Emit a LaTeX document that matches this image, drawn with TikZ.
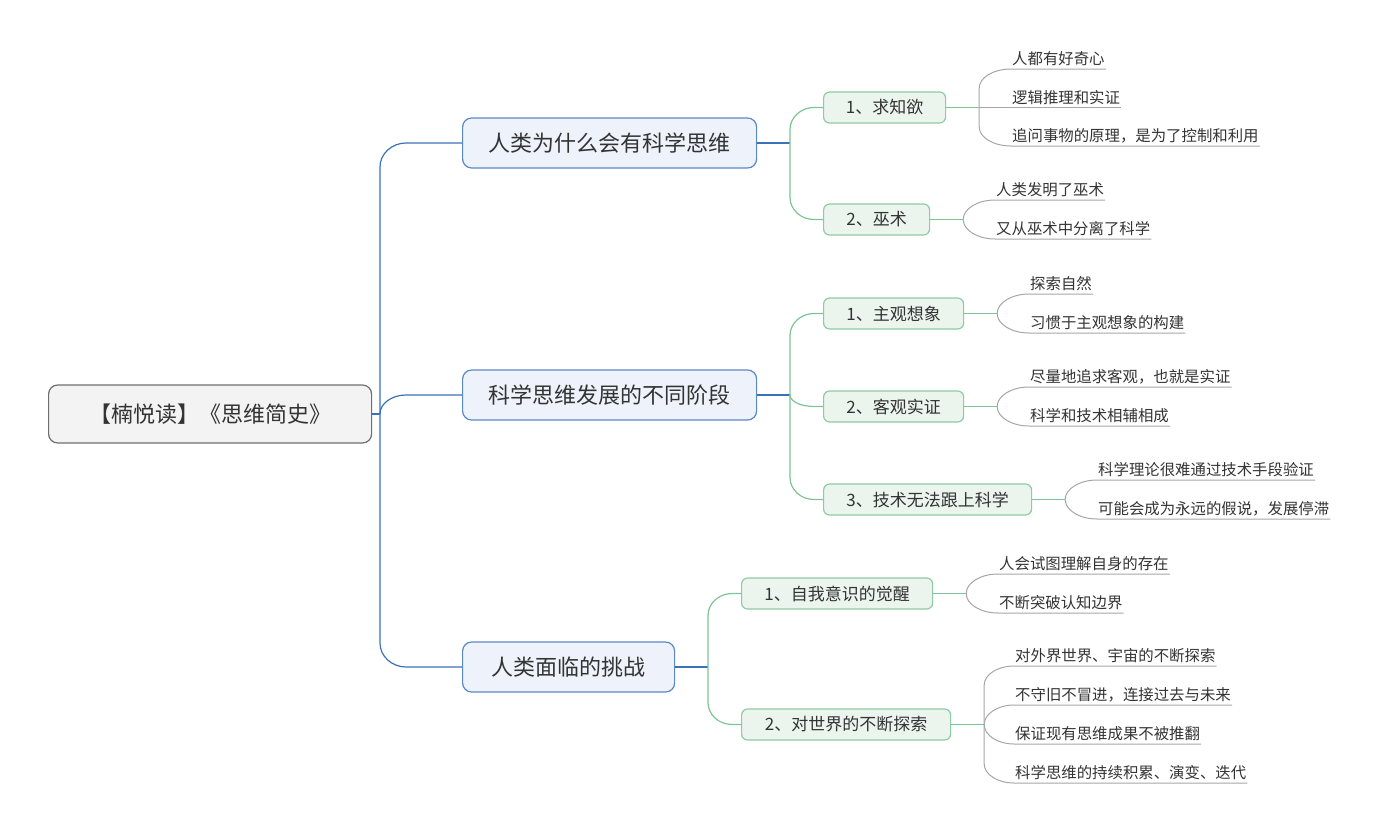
\documentclass[tikz,border=0pt]{standalone}
\usepackage{fontspec}
\setmainfont{Noto Sans CJK SC}
\usetikzlibrary{calc}
\definecolor{txt}{HTML}{333333}
\definecolor{rootfill}{HTML}{F3F3F3}
\definecolor{rootdraw}{HTML}{6E6E6E}
\definecolor{bluefill}{HTML}{EEF3FB}
\definecolor{bluedraw}{HTML}{5A88C6}
\definecolor{bluelinec}{HTML}{3A72BA}
\definecolor{greenfill}{HTML}{EBF5EE}
\definecolor{greendraw}{HTML}{8FCBA2}
\definecolor{greenlinec}{HTML}{7CC493}
\definecolor{graylinec}{HTML}{A6A6A6}
\tikzset{
  rootbox/.style={draw=rootdraw, fill=rootfill, line width=1.2pt, rounded corners=9pt,
    minimum height=58pt, anchor=west, text=txt, inner sep=0pt,
    font=\fontsize{22pt}{26pt}\selectfont},
  topicbox/.style={draw=bluedraw, fill=bluefill, line width=1.2pt, rounded corners=9pt,
    minimum height=50pt, anchor=west, text=txt, inner sep=0pt,
    font=\fontsize{22pt}{26pt}\selectfont},
  subbox/.style={draw=greendraw, fill=greenfill, line width=1.2pt, rounded corners=6pt,
    minimum height=31pt, anchor=west, text=txt, inner sep=0pt,
    font=\fontsize{17pt}{20pt}\selectfont},
  leaf/.style={anchor=south west, inner xsep=1pt, inner ysep=0pt, text height=12pt,
    text depth=4pt, text=txt, font=\fontsize{15.4pt}{18pt}\selectfont},
  bconn/.style={draw=bluelinec, line width=1.2pt},
  gconn/.style={draw=greenlinec, line width=1.2pt},
  lconn/.style={draw=graylinec, line width=1pt},
}
% #1 style, #2 junction, #3 target anchor, #4 horizontal reach
\newcommand\mmNear[4]{\draw[#1] (#2) .. controls ($(#2 |- #3)!0.45!(#2)$) and ($(#2 |- #3)+(0.45*#4,0)$) .. ($(#2 |- #3)+(#4,0)$) -- (#3);}
% #5 vertical radius (positive when target is above)
\newcommand\mmFar[5]{\draw[#1] (#2) -- ($(#2 |- #3)+(0,#5)$) .. controls ($(#2 |- #3)+(0,0.45*#5)$) and ($(#2 |- #3)+(0.45*#4,0)$) .. ($(#2 |- #3)+(#4,0)$) -- (#3);}
\newcommand\mmLeafNear[2]{\draw[lconn] (#1) .. controls ($(#1 |- #2.south west)!0.45!(#1)$) and ($(#1 |- #2.south west)!0.45!(#2.south west)$) .. (#2.south west) -- (#2.south east);}
\newcommand\mmLeafFar[3]{\draw[lconn] (#1) -- ($(#1 |- #2.south west)+(0,#3)$) .. controls ($(#1 |- #2.south west)+(0,0.45*#3)$) and ($(#1 |- #2.south west)!0.45!(#2.south west)$) .. (#2.south west) -- (#2.south east);}
\newcommand\mmLeafStraight[2]{\draw[lconn] (#1) -- (#2.south west) -- (#2.south east);}
\begin{document}
\begin{tikzpicture}[x=1pt, y=-1pt]
\useasboundingbox (0,0) rectangle (1379,830);
% nodes
\node[rootbox, minimum width=323pt] (root) at (48,414) {【楠悦读】《思维简史》};
\node[topicbox, minimum width=294pt] (A) at (462,143) {人类为什么会有科学思维};
\node[topicbox, minimum width=294pt] (B) at (462,395) {科学思维发展的不同阶段};
\node[topicbox, minimum width=212pt] (C) at (462,667) {人类面临的挑战};
\node[subbox, minimum width=122pt] (A1) at (823,107.5) {1、求知欲};
\node[subbox, minimum width=106pt] (A2) at (823,219.5) {2、巫术};
\node[subbox, minimum width=140pt] (B1) at (823,313.5) {1、主观想象};
\node[subbox, minimum width=140pt] (B2) at (823,406.5) {2、客观实证};
\node[subbox, minimum width=208pt] (B3) at (823,499.5) {3、技术无法跟上科学};
\node[subbox, minimum width=191pt] (C1) at (741,593.5) {1、自我意识的觉醒};
\node[subbox, minimum width=209pt] (C2) at (741,724.5) {2、对世界的不断探索};
% leaves
\node[leaf] (a11) at (1011,69) {人都有好奇心};
\node[leaf] (a12) at (1011,107.5) {逻辑推理和实证};
\node[leaf] (a13) at (1011,146) {追问事物的原理，是为了控制和利用};
\node[leaf] (a21) at (995,200) {人类发明了巫术};
\node[leaf] (a22) at (995,239) {又从巫术中分离了科学};
\node[leaf] (b11) at (1029,294) {探索自然};
\node[leaf] (b12) at (1029,333) {习惯于主观想象的构建};
\node[leaf] (b21) at (1029,387) {尽量地追求客观，也就是实证};
\node[leaf] (b22) at (1029,426) {科学和技术相辅相成};
\node[leaf] (b31) at (1097,480) {科学理论很难通过技术手段验证};
\node[leaf] (b32) at (1097,519) {可能会成为永远的假说，发展停滞};
\node[leaf] (c11) at (998,574) {人会试图理解自身的存在};
\node[leaf] (c12) at (998,613) {不断突破认知边界};
\node[leaf] (c21) at (1014,666) {对外界世界、宇宙的不断探索};
\node[leaf] (c22) at (1014,705) {不守旧不冒进，连接过去与未来};
\node[leaf] (c23) at (1014,744) {保证现有思维成果不被推翻};
\node[leaf] (c24) at (1014,783) {科学思维的持续积累、演变、迭代};
% junctions
\coordinate (J0) at (380,414);
\coordinate (JA) at (790,143);
\coordinate (JB) at (790,395);
\coordinate (JC) at (708,667);
\coordinate (JA1) at ($(A1.east)+(33,0)$);
\coordinate (JA2) at ($(A2.east)+(33,0)$);
\coordinate (JB1) at ($(B1.east)+(33,0)$);
\coordinate (JB2) at ($(B2.east)+(33,0)$);
\coordinate (JB3) at ($(B3.east)+(33,0)$);
\coordinate (JC1) at ($(C1.east)+(33,0)$);
\coordinate (JC2) at ($(C2.east)+(33,0)$);
% root -> topics
\draw[bconn] (root.east) -- (J0);
\mmFar{bconn}{J0}{A.west}{26}{24}
\mmNear{bconn}{J0}{B.west}{26}
\mmFar{bconn}{J0}{C.west}{26}{-24}
% topics -> subtopics
\draw[bconn] (A.east) -- (JA);
\draw[bconn] (B.east) -- (JB);
\draw[bconn] (C.east) -- (JC);
\mmFar{gconn}{JA}{A1.west}{24}{22}
\mmFar{gconn}{JA}{A2.west}{24}{-22}
\mmFar{gconn}{JB}{B1.west}{24}{22}
\mmNear{gconn}{JB}{B2.west}{24}
\mmFar{gconn}{JB}{B3.west}{24}{-22}
\mmFar{gconn}{JC}{C1.west}{24}{22}
\mmFar{gconn}{JC}{C2.west}{24}{-22}
% subtopics -> leaves
\draw[gconn] (A1.east) -- (JA1);
\draw[gconn] (A2.east) -- (JA2);
\draw[gconn] (B1.east) -- (JB1);
\draw[gconn] (B2.east) -- (JB2);
\draw[gconn] (B3.east) -- (JB3);
\draw[gconn] (C1.east) -- (JC1);
\draw[gconn] (C2.east) -- (JC2);
\mmLeafFar{JA1}{a11}{19}
\mmLeafStraight{JA1}{a12}
\mmLeafFar{JA1}{a13}{-19}
\mmLeafNear{JA2}{a21}
\mmLeafNear{JA2}{a22}
\mmLeafNear{JB1}{b11}
\mmLeafNear{JB1}{b12}
\mmLeafNear{JB2}{b21}
\mmLeafNear{JB2}{b22}
\mmLeafNear{JB3}{b31}
\mmLeafNear{JB3}{b32}
\mmLeafNear{JC1}{c11}
\mmLeafNear{JC1}{c12}
\mmLeafFar{JC2}{c21}{19}
\mmLeafNear{JC2}{c22}
\mmLeafNear{JC2}{c23}
\mmLeafFar{JC2}{c24}{-19}
\end{tikzpicture}
\end{document}
